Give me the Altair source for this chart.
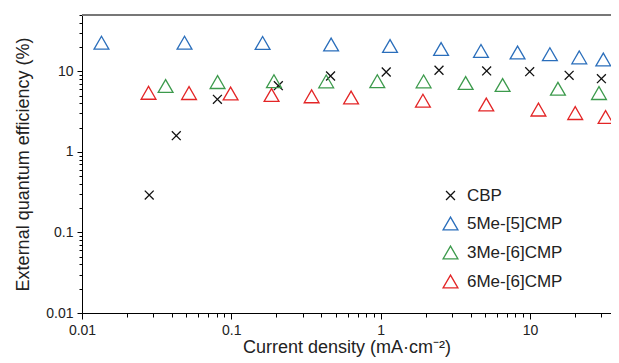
import altair as alt
import pandas as pd

# ---- data ----
series = ["CBP", "5Me-[5]CMP", "3Me-[6]CMP", "6Me-[6]CMP"]
colors = ["#111111", "#2a6ebb", "#3c9a4c", "#e32526"]

cbp_x = [0.0282, 0.0428, 0.0807, 0.2065, 0.462, 1.09, 2.46, 5.13, 9.96, 18.3, 30.1]
cbp_y = [0.291, 1.59, 4.49, 6.64, 8.74, 9.8, 10.3, 10.1, 9.9, 8.92, 8.11]

me5_x = [0.0135, 0.0486, 0.162, 0.466, 1.156, 2.54, 4.70, 8.26, 13.6, 21.4, 31.0]
me5_y = [22.7, 22.7, 22.5, 21.5, 20.6, 18.9, 17.9, 17.1, 16.3, 14.9, 14.0]

me3_x = [0.0363, 0.0809, 0.193, 0.432, 0.95, 1.94, 3.71, 6.56, 15.4, 29.0]
me3_y = [6.57, 7.35, 7.55, 7.5, 7.55, 7.5, 7.16, 6.76, 6.07, 5.37]

me6_x = [0.0279, 0.0521, 0.0989, 0.186, 0.345, 0.634, 1.92, 5.1, 11.4, 20.1, 32.1]
me6_y = [5.41, 5.37, 5.3, 5.08, 4.89, 4.73, 4.32, 3.87, 3.35, 3.03, 2.71]

x_decades = [-2, -1, 0, 1]
y_decades = [-2, -1, 0, 1]
x_tick_values = [round(m * 10 ** e, 6) for e in x_decades for m in range(1, 10) if m * 10 ** e <= 31]
y_tick_values = [round(m * 10 ** e, 6) for e in y_decades for m in range(1, 10) if m * 10 ** e <= 50]

x_domain = [0.01, 34.9]
y_domain = [0.01, 50]

x_title = "Current density (mA·cm⁻²)"
y_title = "External quantum efficiency (%)"

# ---- build table ----
rows = []
for name, xs, ys in [(series[0], cbp_x, cbp_y), (series[1], me5_x, me5_y),
                     (series[2], me3_x, me3_y), (series[3], me6_x, me6_y)]:
    for xv, yv in zip(xs, ys):
        rows.append({"series": name, "j": xv, "eqe": yv})
df = pd.DataFrame(rows)

FONT = "Liberation Sans"
W, H = 529, 298
SYM = 220
X_PATH = "M-0.6,-0.6L0.6,0.6M-0.6,0.6L0.6,-0.6"

is_decade = "abs(log(datum.value)/LN10 - round(log(datum.value)/LN10)) < 0.001"

x_axis = alt.Axis(
    values=x_tick_values,
    labelExpr=f"({is_decade}) ? format(datum.value, '~g') : ''",
    tickSize={"condition": {"test": is_decade, "value": 6}, "value": 4},
    tickColor="#000", domainColor="#000", tickWidth=1, domainWidth=1,
    labelFont=FONT, labelFontSize=14, labelColor="#222", labelPadding=4,
    labelOverlap=False, labelFlush=False, grid=False,
    title=x_title, titleFont=FONT, titleFontSize=18, titleFontWeight="normal",
    titleColor="#222", titlePadding=1,
)
y_axis = alt.Axis(
    values=y_tick_values,
    labelExpr=f"({is_decade}) ? format(datum.value, '~g') : ''",
    tickSize={"condition": {"test": is_decade, "value": 5}, "value": 3},
    tickColor="#000", domainColor="#000", tickWidth=1, domainWidth=1,
    labelFont=FONT, labelFontSize=14, labelColor="#222", labelPadding=4,
    labelOverlap=False, labelFlush=False, grid=False,
    title=y_title, titleFont=FONT, titleFontSize=18, titleFontWeight="normal",
    titleColor="#222", titlePadding=13,
)

points = alt.Chart(df).mark_point(filled=False, strokeWidth=1.3, opacity=1, size=SYM).encode(
    x=alt.X("j:Q", scale=alt.Scale(type="log", domain=x_domain, nice=False), axis=x_axis),
    y=alt.Y("eqe:Q", scale=alt.Scale(type="log", domain=y_domain, nice=False), axis=y_axis),
    color=alt.Color("series:N", scale=alt.Scale(domain=series, range=colors), legend=alt.Legend(
        title=None, orient="none", legendX=360, legendY=172,
        labelFont=FONT, labelFontSize=17, labelColor="#222", labelOffset=8,
        rowPadding=10, symbolStrokeWidth=1.3, symbolSize=SYM, padding=0,
    )),
    shape=alt.Shape("series:N", scale=alt.Scale(
        domain=series,
        range=[X_PATH, "triangle-up", "triangle-up", "triangle-up"])),
)

top_line = alt.Chart(pd.DataFrame({"a": [0]})).mark_rule(color="#777777", strokeWidth=2).encode(
    x=alt.value(0), x2=alt.value(W), y=alt.value(0)
)

chart = alt.layer(top_line, points).properties(
    width=W, height=H,
    padding={"left": 74, "top": 7, "right": 0, "bottom": 45},
    autosize="none",
).configure_view(stroke=None).configure(background="white")

chart.save("out.html", embed_options={"renderer": "svg", "actions": False})
